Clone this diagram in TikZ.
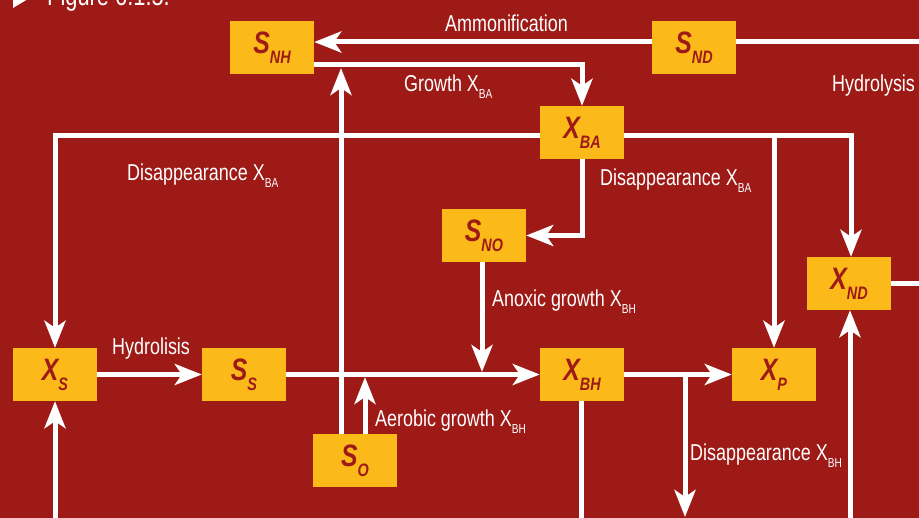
\documentclass[tikz,border=0pt]{standalone}
\usepackage{fontspec}
\setmainfont{Liberation Sans}
\newfontfamily\labfont[FakeStretch=0.78]{Liberation Sans}
\newfontfamily\boxfont[FakeStretch=0.8]{Liberation Sans}
\usetikzlibrary{arrows.meta,calc}
\definecolor{wine}{RGB}{157,26,22}
\definecolor{gold}{RGB}{251,185,26}
\newcommand\bsub[2]{#1\lower10pt\hbox{\fontsize{18}{18}\selectfont #2}}
\newcommand\lsub[1]{\lower7pt\hbox{\fontsize{13}{13}\selectfont #1}}
\tikzset{
  >={Stealth[length=27pt,width=21pt,inset=7pt]},
  state/.style={fill=gold,text=wine,minimum width=84pt,minimum height=53pt,inner sep=0pt,
    font=\boxfont\bfseries\itshape\fontsize{31}{31}\selectfont},
  flow/.style={->,line width=5pt,draw=white},
  wire/.style={line width=5pt,draw=white},
  tag/.style={text=white,anchor=base west,inner sep=0pt,font=\labfont\fontsize{23}{24}\selectfont},
}
\begin{document}
\begin{tikzpicture}[x=1pt,y=-1pt]
    \useasboundingbox (0,0) rectangle (919,518);
    \clip (0,0) rectangle (919,518);
    \fill[wine] (0,0) rectangle (919,518);
    % caption, cut by the top edge
    \fill[white] (13,-10) -- (28,-1) -- (13,8) -- cycle;
    \node[tag,font=\labfont\fontsize{28}{30}\selectfont] (fig) at (47,6) {Figure 6.1.5.};
    % states
    \node[state] (snh) at (272,47.5) {\bsub{S}{NH}};
    \node[state] (snd) at (694,47.5) {\bsub{S}{ND}};
    \node[state] (xba) at (582,132.5) {\bsub{X}{BA}};
    \node[state] (sno) at (484,235.5) {\bsub{S}{NO}};
    \node[state] (xnd) at (849,283.5) {\bsub{X}{ND}};
    \node[state] (xs) at (55,374.5) {\bsub{X}{S}};
    \node[state] (ss) at (244,374.5) {\bsub{S}{S}};
    \node[state] (xbh) at (582,374.5) {\bsub{X}{BH}};
    \node[state] (xp) at (774,374.5) {\bsub{X}{P}};
    \node[state] (so) at (355,460.5) {\bsub{S}{O}};
    % free ends
    \coordinate (nd in) at (925,42);
    \coordinate (nd out) at (925,283.5);
    \coordinate (o nh) at (341,68);
    \coordinate (o bh) at (365,377);
    \coordinate (no bh) at (482,372);
    \coordinate (ba r) at ([yshift=-3pt]xba.east);
    \coordinate (bh down) at (685,517);
    \coordinate (bh low) at (581,525);
    \coordinate (nd low) at (850,525);
    \coordinate (xs low) at (55,525);
    % flows
    \draw[flow] ([yshift=5.5pt]snd.west) -- ([yshift=5.5pt]snh.east); \draw[wire] (nd in) -- ([yshift=5.5pt]snd.east);
    \draw[flow] ([yshift=-17.5pt]snh.east) -| (xba.north);
    \draw[flow] ([xshift=-14pt]so.north) -- (o nh); \draw[flow] ([xshift=10pt]so.north) -- (o bh);
    \draw[flow] (xs) -- (ss); \draw[flow] (ss) -- (xbh); \draw[flow] (xbh) -- (xp);
    \draw[flow] ([xshift=-2pt]sno.south) -- (no bh);
    \draw[flow] (xba.south) |- (sno);
    \draw[flow] ([yshift=-3pt]xba.west) -| (xs.north);
    \draw[flow] (ba r) -| ([xshift=2pt]xnd.north); \draw[flow] (ba r -| xp.north) -- (xp.north);
    \draw[flow] (xbh.east -| bh down) -- (bh down);
    \draw[wire] ([xshift=-1pt]xbh.south) -- (bh low);
    \draw[flow] (nd low) -- ([xshift=1pt]xnd.south); \draw[wire] (xnd) -- (nd out);
    \draw[flow] (xs low) -- (xs);
    % labels
    \node[tag] (l amm) at (445,32) {Ammonification};
    \node[tag] (l gba) at (404,92) {Growth X\lsub{BA}};
    \node[tag] (l hyd) at (832,92) {Hydrolysis};
    \node[tag] (l dba) at (127,181) {Disappearance X\lsub{BA}};
    \node[tag] (l dno) at (600,186) {Disappearance X\lsub{BA}};
    \node[tag] (l anx) at (492,307) {Anoxic growth X\lsub{BH}};
    \node[tag] (l hys) at (112,355) {Hydrolisis};
    \node[tag] (l aer) at (375,427) {Aerobic growth X\lsub{BH}};
    \node[tag] (l dbh) at (690,461) {Disappearance X\lsub{BH}};
\end{tikzpicture}
\end{document}
